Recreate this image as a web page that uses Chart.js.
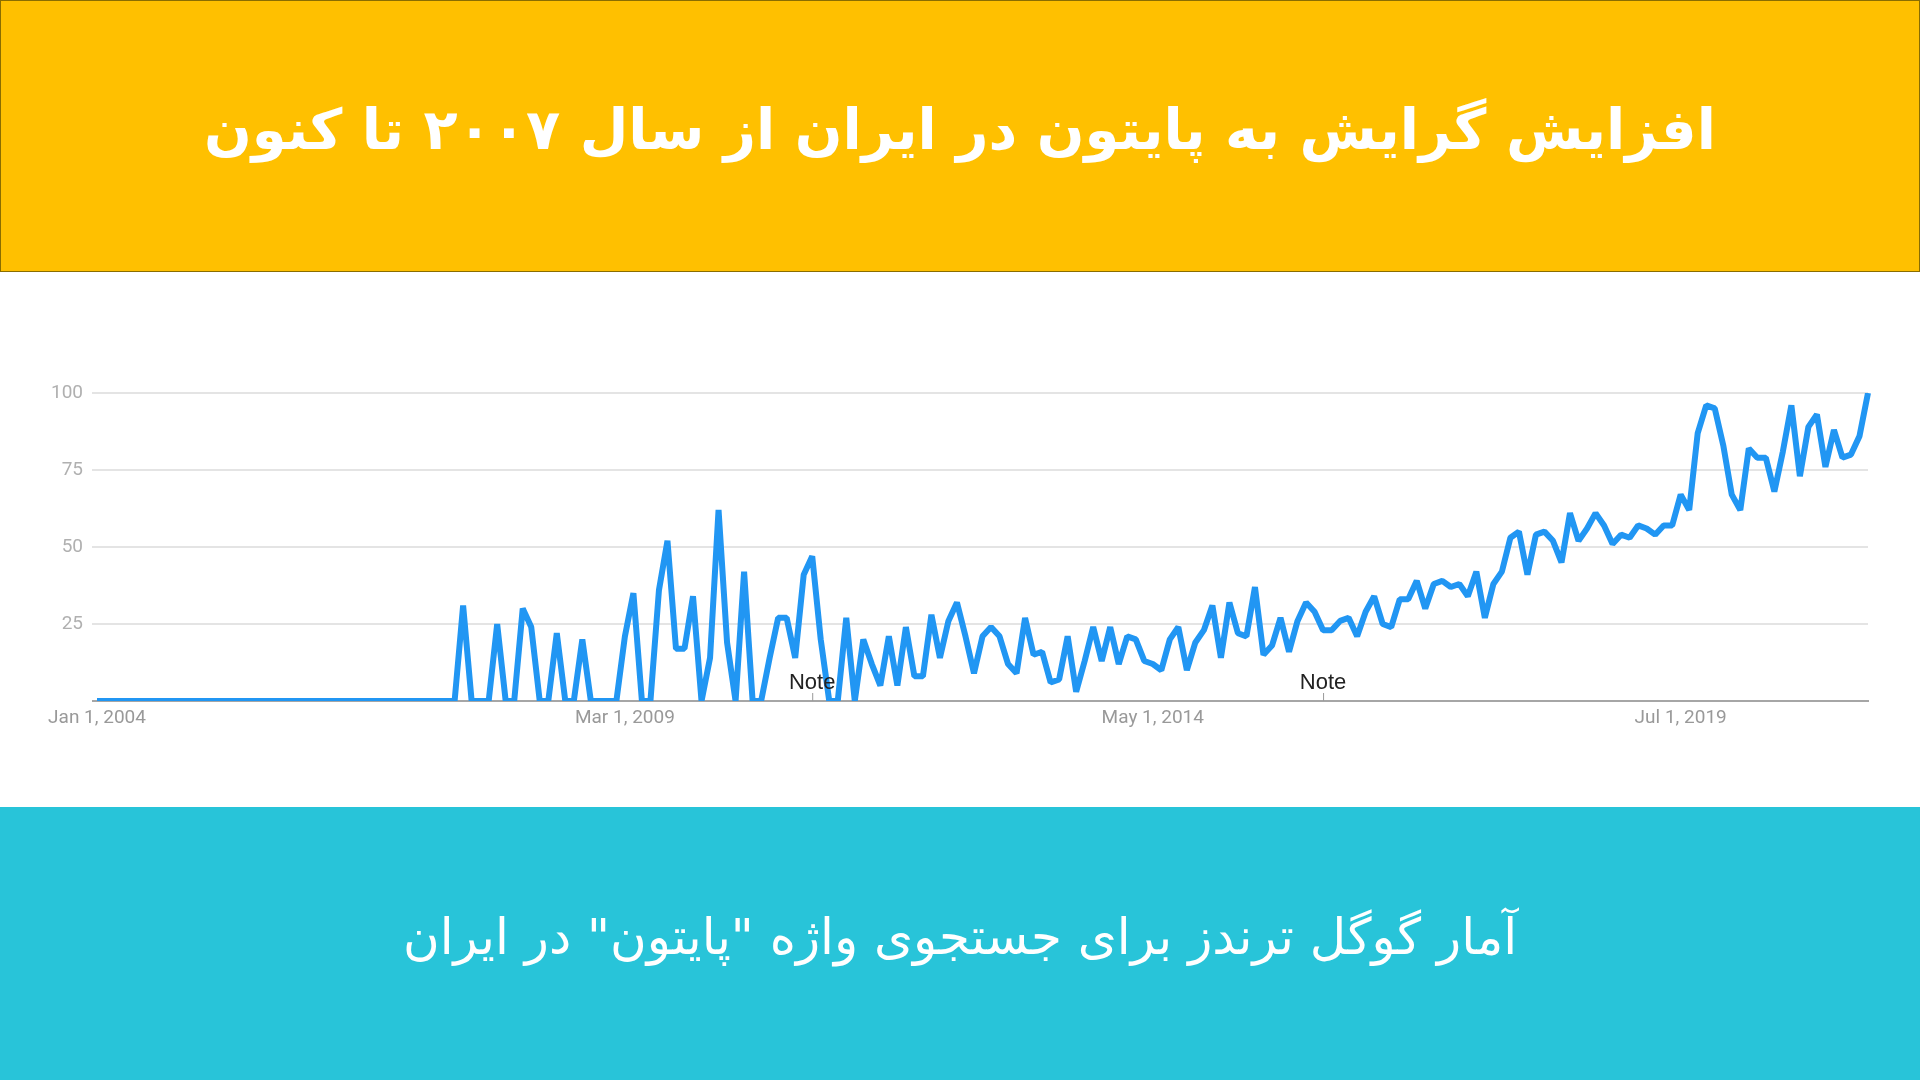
<!DOCTYPE html>
<html lang="fa">
<head>
    <meta charset="UTF-8">
    <title>Python trend in Iran</title>
    <script src="https://cdn.jsdelivr.net/npm/chart.js"></script>
    <style>
        body { margin: 0; width: 1920px; height: 1080px; overflow: hidden; background: #fff; position: relative; }
        header {
            position: absolute; left: 0; top: 0; width: 1918px; height: 270px;
            background: #ffc000; border: 1px solid #8a6d00;
        }
        header h1 {
            margin: 0; position: absolute; left: 0; right: 0; top: 128px; transform: translateY(-50%);
            text-align: center; color: #fff; font-family: "DejaVu Sans", sans-serif;
            font-weight: bold; font-size: 56px; direction: rtl;
        }
        #chartBox { position: absolute; left: 0; top: 272px; width: 1920px; height: 535px; }
        footer {
            position: absolute; left: 0; top: 807px; width: 1920px; height: 273px; background: #28c4d9;
        }
        footer p {
            margin: 0; position: absolute; left: 0; right: 0; top: 130px; transform: translateY(-50%);
            text-align: center; color: #fff; font-family: "DejaVu Sans", sans-serif;
            font-size: 50px; direction: rtl;
        }
    </style>
</head>
<body>
    <header>
        <h1>افزایش گرایش به پایتون در ایران از سال ۲۰۰۷ تا کنون</h1>
    </header>

    <div id="chartBox">
        <canvas id="trendChart" width="1920" height="535"></canvas>
    </div>

    <footer>
        <p>آمار گوگل ترندز برای جستجوی واژه "پایتون" در ایران</p>
    </footer>

    <script>
        // Google Trends interest, monthly from Jan 2004
        const interest = [
            0, 0, 0, 0, 0, 0, 0, 0, 0, 0, 0, 0, 0, 0, 0, 0, 0, 0, 0, 0, 0, 0,
            0, 0, 0, 0, 0, 0, 0, 0, 0, 0, 0, 0, 0, 0, 0, 0, 0, 0, 0, 0, 0,
            31, 0, 0, 0, 25, 0, 0, 30, 24, 0,
            0, 22, 0, 0, 20, 0, 0, 0, 0, 21,
            35, 0, 0, 36, 52, 17, 17, 34, 0, 14,
            62, 19, 0, 42, 0, 0, 14, 27, 27, 14,
            41, 47, 20, 0, 0, 27, 0, 20, 12, 5,
            21, 5, 24, 8, 8, 28, 14, 26, 32, 21,
            9, 21, 24, 21, 12, 9, 27, 15, 16, 6,
            7, 21, 3, 13, 24, 13, 24, 12, 21, 20,
            13, 12, 10, 20, 24, 10, 19, 23, 31, 14,
            32, 22, 21, 37, 15, 18, 27, 16, 26, 32,
            29, 23, 23, 26, 27, 21, 29, 34, 25, 24,
            33, 33, 39, 30, 38, 39, 37, 38, 34, 42,
            27, 38, 42, 53, 55, 41, 54, 55, 52, 45,
            61, 52, 56, 61, 57, 51, 54, 53, 57, 56,
            54, 57, 57, 67, 62, 87, 96, 95, 83, 67,
            62, 82, 79, 79, 68, 81, 96, 73, 89, 93,
            76, 88, 79, 80, 86, 100
        ];

        const startYear = 2004;
        const tickMonths = ['2004-01', '2009-03', '2014-05', '2019-07'];
        const tickLabels = ['Jan 1, 2004', 'Mar 1, 2009', 'May 1, 2014', 'Jul 1, 2019'];
        const noteMonths = ['2011-01', '2016-01'];
        const yTicks = [0, 25, 50, 75, 100];

        // month categories, one per value
        const months = [];
        for (let i = 0; i < interest.length; i++) {
            const y = startYear + Math.floor(i / 12);
            const m = (i % 12) + 1;
            months.push(y + '-' + (m < 10 ? '0' + m : m));
        }

        // small "Note" markers on the time axis
        const notePlugin = {
            id: 'notes',
            afterDatasetsDraw(chart) {
                const ctx = chart.ctx;
                const xs = chart.scales.x;
                const bottom = chart.chartArea.bottom;
                ctx.save();
                noteMonths.forEach(function (mo) {
                    const x = xs.getPixelForValue(months.indexOf(mo));
                    ctx.strokeStyle = '#999';
                    ctx.lineWidth = 1;
                    ctx.beginPath();
                    ctx.moveTo(x + 0.5, bottom - 8);
                    ctx.lineTo(x + 0.5, bottom);
                    ctx.stroke();
                    ctx.fillStyle = '#222';
                    ctx.font = '22px "Liberation Sans", Arial, sans-serif';
                    ctx.textAlign = 'center';
                    ctx.textBaseline = 'middle';
                    ctx.fillText('Note', x, bottom - 18);
                });
                ctx.restore();
            }
        };

        const ctx = document.getElementById('trendChart').getContext('2d');
        new Chart(ctx, {
            type: 'line',
            data: {
                labels: months,
                datasets: [{
                    label: 'Python',
                    data: interest,
                    borderColor: '#2196f3',
                    borderWidth: 6,
                    borderJoinStyle: 'bevel',
                    pointRadius: 0,
                    tension: 0,
                    fill: false
                }]
            },
            options: {
                responsive: false,
                animation: false,
                devicePixelRatio: 1,
                layout: { padding: { left: 0, right: 52, top: 121, bottom: 0 } },
                plugins: {
                    legend: { display: false },
                    tooltip: { enabled: false }
                },
                scales: {
                    x: {
                        afterFit: function (scale) { scale.height = 106; },
                        grid: { display: false, drawTicks: false },
                        border: { display: true, color: '#a6a6a6', width: 2 },
                        ticks: {
                            autoSkip: false,
                            maxRotation: 0,
                            minRotation: 0,
                            padding: 6,
                            color: '#999',
                            font: { family: 'Roboto', size: 19 },
                            callback: function (value) {
                                const k = tickMonths.indexOf(this.getLabelForValue(value));
                                return k >= 0 ? tickLabels[k] : '';
                            }
                        }
                    },
                    y: {
                        min: 0,
                        max: 100,
                        afterFit: function (scale) { scale.width = 97; },
                        afterBuildTicks: function (scale) {
                            scale.ticks = yTicks.map(function (v) { return { value: v }; });
                        },
                        grid: {
                            color: function (c) { return c.tick.value === 0 ? '#a6a6a6' : '#e4e4e4'; },
                            lineWidth: 2,
                            tickLength: 5
                        },
                        border: { display: false },
                        ticks: {
                            padding: 9,
                            color: '#b0b0b0',
                            font: { family: 'Roboto', size: 19 },
                            callback: function (v) { return v === 0 ? '' : v; }
                        }
                    }
                }
            },
            plugins: [notePlugin]
        });
    </script>
</body>
</html>
